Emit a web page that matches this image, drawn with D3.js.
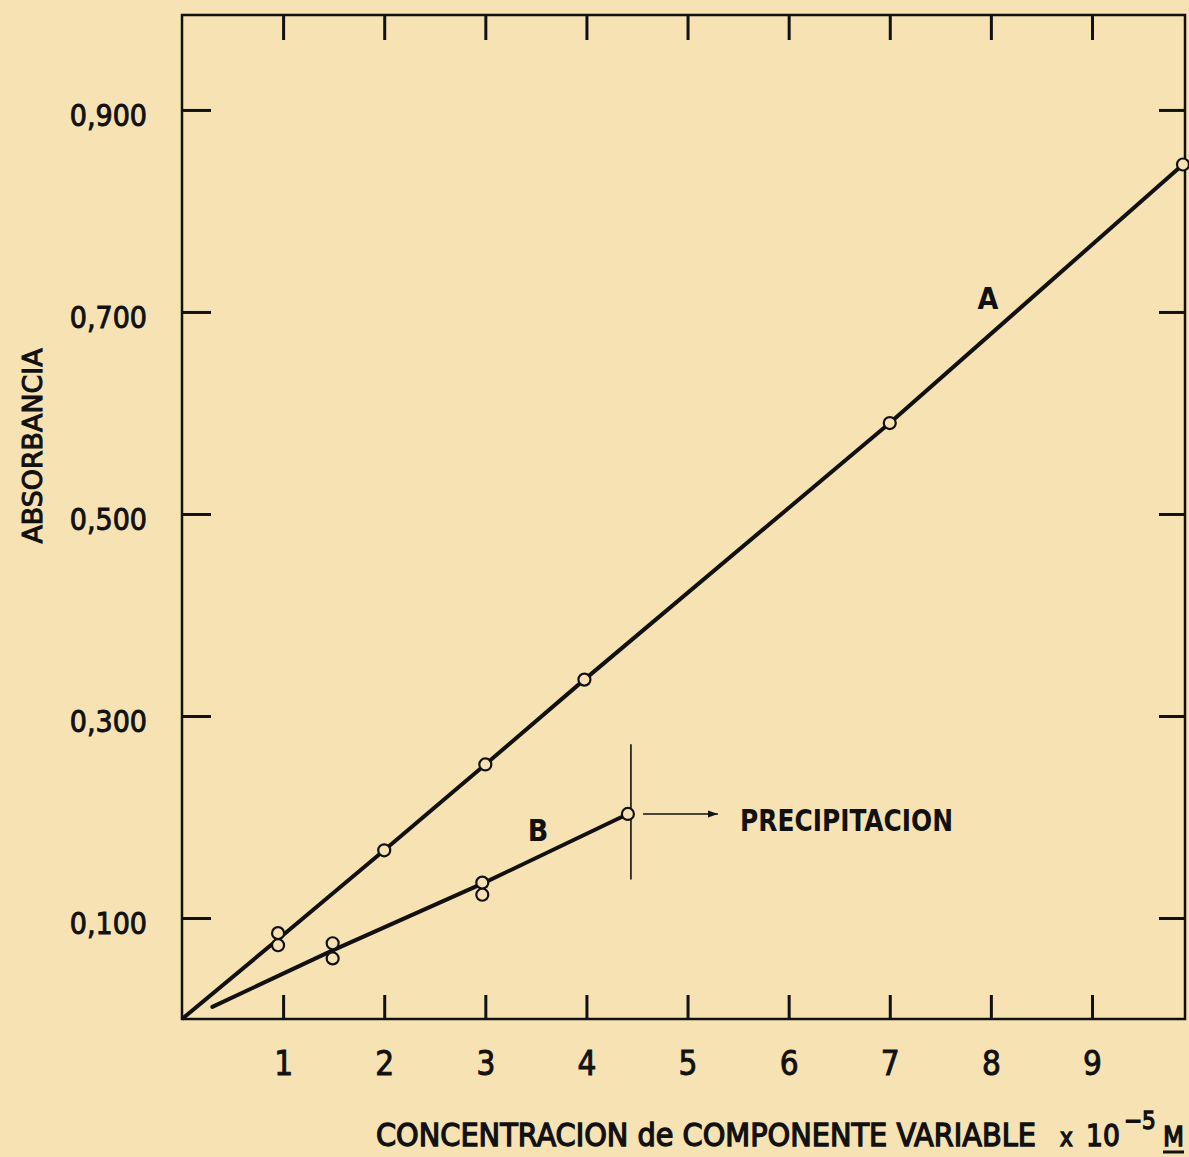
<!DOCTYPE html>
<html>
<head>
<meta charset="utf-8">
<script src="https://cdn.jsdelivr.net/npm/d3@7"></script>
<style>
  html, body { margin: 0; padding: 0; background: #f6e2b3; }
  svg { display: block; }
</style>
</head>
<body>
<svg id="chart" width="1189" height="1157"></svg>
<script>
// Tick values and labels
const xTicks = [1, 2, 3, 4, 5, 6, 7, 8, 9];
const yTicks = [0.1, 0.3, 0.5, 0.7, 0.9];
const yTickLabels = ["0,100", "0,300", "0,500", "0,700", "0,900"];

// Curve A: measured points (concentration x 10^-5 M, absorbancia)
const seriesAx = [0.95, 0.95, 2.0, 3.0, 3.98, 7.0, 9.9];
const seriesAy = [0.085, 0.073, 0.167, 0.252, 0.336, 0.590, 0.846];
// Curve A: drawn trend line vertices
const lineAx = [0, 0.95, 2.0, 3.0, 3.98, 7.0, 9.9];
const lineAy = [0, 0.079, 0.167, 0.252, 0.336, 0.590, 0.846];

// Curve B: measured points
const seriesBx = [1.49, 1.49, 2.97, 2.97, 4.41];
const seriesBy = [0.075, 0.060, 0.135, 0.123, 0.203];
// Curve B: drawn trend line vertices
const lineBx = [0.3, 1.49, 2.97, 4.41];
const lineBy = [0.012, 0.068, 0.134, 0.203];

// Precipitation limit marker
const precipX = 4.44;
const precipYRange = [0.138, 0.272];
const precipArrowX = [4.56, 5.3];
const precipArrowY = 0.203;

const BG = "#f6e2b3";
const INK = "#111";
const FONT = "'DejaVu Sans Condensed', 'Liberation Sans Narrow', sans-serif";

const svg = d3.select("#chart");
svg.append("rect").attr("width", 1189).attr("height", 1157).attr("fill", BG);

const x = d3.scaleLinear().domain([0, 9.92]).range([182, 1185]);
const y = d3.scaleLinear().domain([0, 0.994]).range([1019, 15]);

// Frame
svg.append("rect")
  .attr("x", x(0)).attr("y", y(0.994))
  .attr("width", x(9.92) - x(0)).attr("height", y(0) - y(0.994))
  .attr("fill", "none").attr("stroke", INK).attr("stroke-width", 2.5);

// Bottom axis (inward ticks) with labels
const xAxisBottom = d3.axisBottom(x).tickValues(xTicks).tickSize(-24).tickPadding(33).tickFormat(d3.format("d"));
const gxb = svg.append("g").attr("transform", `translate(0,${y(0)})`).call(xAxisBottom);
// Top axis (inward ticks, no labels)
const xAxisTop = d3.axisTop(x).tickValues(xTicks).tickSize(-25).tickFormat("");
const gxt = svg.append("g").attr("transform", `translate(0,${y(0.994)})`).call(xAxisTop);
// Left axis (inward ticks) with labels
const yAxisLeft = d3.axisLeft(y).tickValues(yTicks).tickSize(-29).tickPadding(35)
  .tickFormat((d, i) => yTickLabels[i]);
const gyl = svg.append("g").attr("transform", `translate(${x(0)},0)`).call(yAxisLeft);
// Right axis (inward ticks, no labels)
const yAxisRight = d3.axisRight(y).tickValues(yTicks).tickSize(-26).tickFormat("");
const gyr = svg.append("g").attr("transform", `translate(${x(9.92)},0)`).call(yAxisRight);

[gxb, gxt, gyl, gyr].forEach(g => {
  g.select(".domain").remove();
  g.selectAll(".tick line").attr("stroke", INK).attr("stroke-width", 3);
  g.selectAll(".tick text").attr("fill", INK).attr("font-family", FONT)
    .attr("stroke", INK).attr("stroke-width", 0.9);
});
gxb.selectAll(".tick text").attr("font-size", 33);
gyl.selectAll(".tick text").attr("font-size", 30).attr("dy", "0.52em");

// Trend lines
const line = d3.line().x(d => x(d[0])).y(d => y(d[1]));
svg.append("path").datum(d3.zip(lineAx, lineAy)).attr("d", line)
  .attr("fill", "none").attr("stroke", INK).attr("stroke-width", 4).attr("stroke-linejoin", "round");
svg.append("path").datum(d3.zip(lineBx, lineBy)).attr("d", line)
  .attr("fill", "none").attr("stroke", INK).attr("stroke-width", 4).attr("stroke-linecap", "round");

// Precipitation limit
svg.append("line")
  .attr("x1", x(precipX)).attr("x2", x(precipX))
  .attr("y1", y(precipYRange[0])).attr("y2", y(precipYRange[1]))
  .attr("stroke", INK).attr("stroke-width", 1.6);
svg.append("defs").append("marker")
  .attr("id", "arrow").attr("viewBox", "0 0 10 10").attr("refX", 10).attr("refY", 5)
  .attr("markerWidth", 10).attr("markerHeight", 10).attr("markerUnits", "userSpaceOnUse")
  .attr("orient", "auto")
  .append("path").attr("d", "M0,1.5 L10,5 L0,8.5 Z").attr("fill", INK);
svg.append("line")
  .attr("x1", x(precipArrowX[0])).attr("x2", x(precipArrowX[1]))
  .attr("y1", y(precipArrowY)).attr("y2", y(precipArrowY))
  .attr("stroke", INK).attr("stroke-width", 1.6).attr("marker-end", "url(#arrow)");

// Data points (open circles)
const pts = d3.zip(seriesAx, seriesAy).concat(d3.zip(seriesBx, seriesBy));
svg.append("g").selectAll("circle").data(pts).join("circle")
  .attr("cx", d => x(d[0])).attr("cy", d => y(d[1])).attr("r", 6)
  .attr("fill", BG).attr("stroke", INK).attr("stroke-width", 2.2);

// Curve labels
svg.append("text").attr("x", 988).attr("y", 309).attr("text-anchor", "middle")
  .attr("font-family", FONT).attr("font-weight", "bold").attr("font-size", 30).attr("fill", INK).text("A");
svg.append("text").attr("x", 538).attr("y", 841).attr("text-anchor", "middle")
  .attr("font-family", FONT).attr("font-weight", "bold").attr("font-size", 30).attr("fill", INK).text("B");
svg.append("text").attr("x", 740).attr("y", 831)
  .attr("font-family", FONT).attr("font-weight", "bold").attr("font-size", 30).attr("fill", INK)
  .attr("textLength", 213).attr("lengthAdjust", "spacingAndGlyphs").text("PRECIPITACION");

// Axis titles
svg.append("text").attr("transform", "translate(42,446) rotate(-90)").attr("text-anchor", "middle")
  .attr("font-family", FONT).attr("font-size", 27).attr("fill", INK)
  .attr("stroke", INK).attr("stroke-width", 1)
  .attr("textLength", 195).attr("lengthAdjust", "spacingAndGlyphs").text("ABSORBANCIA");

// X title pieces: each shrinks its font until it fits its slot
function fitText(str, xPos, yPos, size, maxWidth) {
  const t = svg.append("text").attr("x", xPos).attr("y", yPos)
    .attr("font-family", FONT).attr("fill", INK).attr("stroke", INK).attr("stroke-width", 1.3)
    .attr("font-size", size).text(str);
  let s = size;
  while (t.node().getComputedTextLength() > maxWidth && s > 8) {
    s -= 0.5;
    t.attr("font-size", s);
  }
  return t;
}
fitText("CONCENTRACION de COMPONENTE VARIABLE", 376, 1146, 34, 660);
fitText("x", 1060, 1146, 24, 13);
fitText("10", 1086, 1146, 33, 34);
fitText("\u22125", 1124, 1129, 27, 32);
fitText("M", 1163, 1146, 31, 21);
svg.append("line").attr("x1", 1163).attr("x2", 1184).attr("y1", 1152).attr("y2", 1152)
  .attr("stroke", INK).attr("stroke-width", 3);
</script>
</body>
</html>
